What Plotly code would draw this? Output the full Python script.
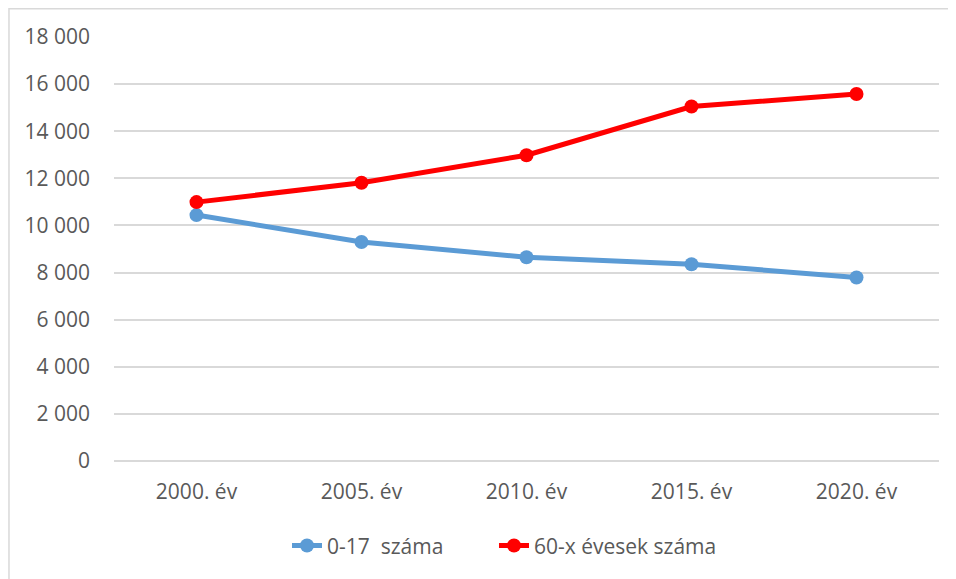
import plotly.graph_objects as go

years = ["2000. év", "2005. év", "2010. év", "2015. év", "2020. év"]
young = [10440, 9300, 8650, 8350, 7790]
old = [10990, 11810, 12980, 15050, 15580]
series_names = ["0-17  száma", "60-x évesek száma"]
colors = ["#5B9BD5", "#FF0000"]
y_ticks = [0, 2000, 4000, 6000, 8000, 10000, 12000, 14000, 16000, 18000]
y_tick_text = ["0", "2 000", "4 000", "6 000", "8 000", "10 000", "12 000", "14 000", "16 000", "18 000"]

font_family = "Open Sans, sans-serif"
text_color = "#595959"
fs = 21

fig = go.Figure()
for name, vals, col, lg in zip(series_names, [young, old], colors, ["legend", "legend2"]):
    fig.add_trace(go.Scatter(
        x=years, y=vals, name=name, mode="lines+markers",
        line=dict(color=col, width=5),
        marker=dict(color=col, size=14),
        legend=lg,
    ))

leg_common = dict(orientation="h", y=-0.2, yanchor="middle", xanchor="left",
                  font=dict(size=fs, color=text_color), bgcolor="rgba(0,0,0,0)")

fig.update_layout(
    width=956, height=579,
    margin=dict(l=106, r=25, t=29, b=126),
    paper_bgcolor="white", plot_bgcolor="white",
    font=dict(family=font_family, size=fs, color=text_color),
    showlegend=True,
    legend=dict(x=0.2097, **leg_common),
    legend2=dict(x=0.4606, **leg_common),
    xaxis=dict(type="category", range=[-0.5, 4.5], showgrid=False, zeroline=False, showline=False,
               ticks="", ticklabelstandoff=16, tickfont=dict(size=fs, color=text_color)),
    yaxis=dict(range=[0, 18000], tickvals=y_ticks, ticktext=y_tick_text,
               showgrid=True, gridcolor="#D9D9D9", gridwidth=1.5,
               zeroline=True, zerolinecolor="#D9D9D9", zerolinewidth=1.5,
               showline=False, ticks="", ticklabelstandoff=23,
               tickfont=dict(size=fs, color=text_color)),
    shapes=[dict(type="rect", xref="paper", yref="paper",
                 x0=-0.1273, x1=1.2, y0=-0.6, y1=1.0666,
                 line=dict(color="#D9D9D9", width=1.5), layer="below")],
)

fig.write_html("out.html")
